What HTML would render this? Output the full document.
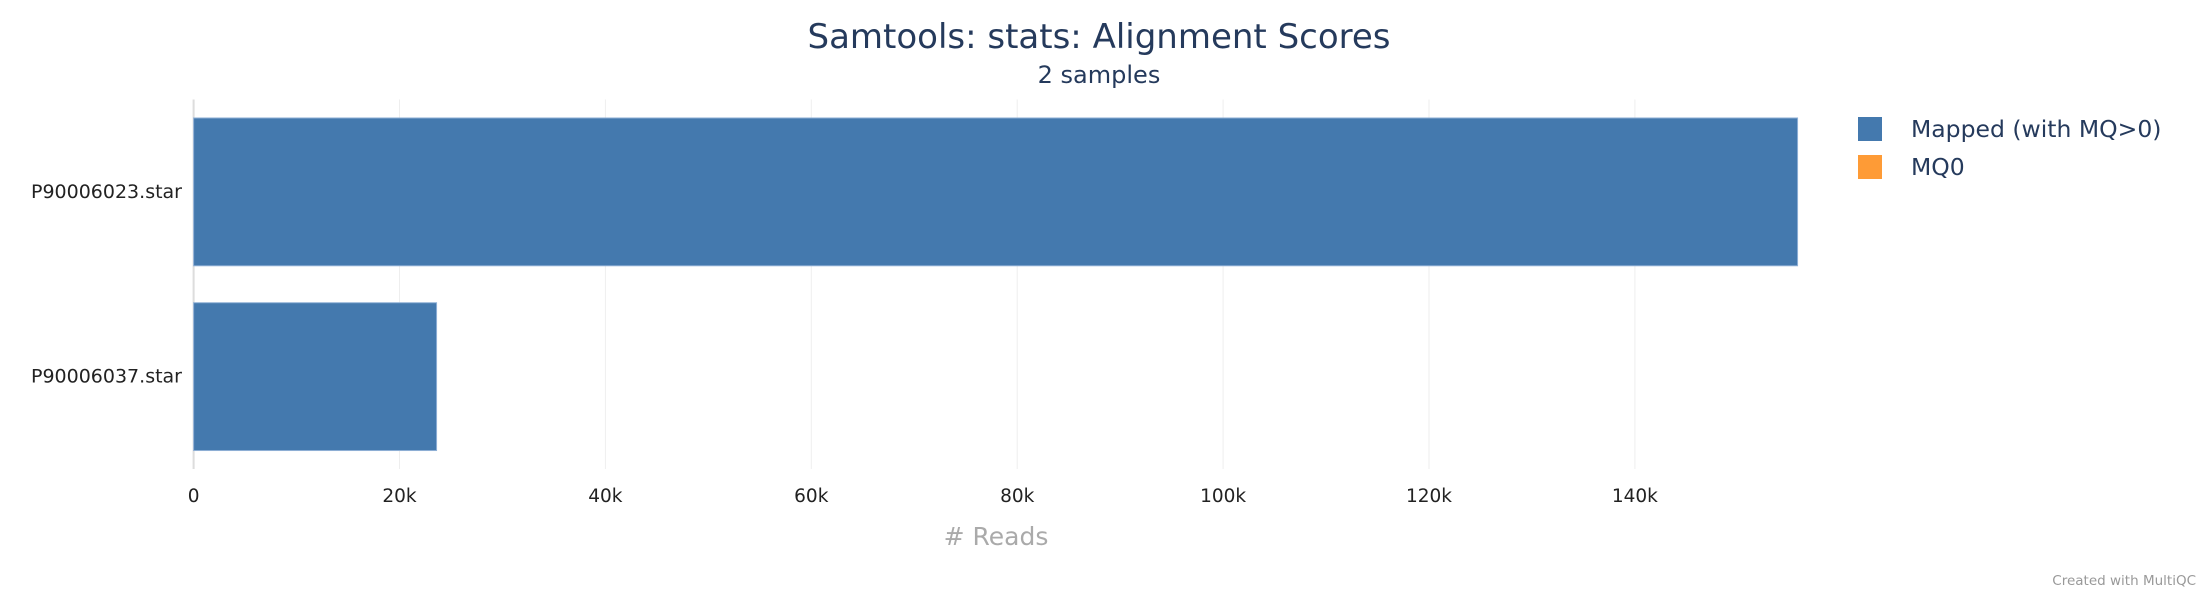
<!DOCTYPE html>
<html><head><meta charset="utf-8"><style>
html,body{margin:0;padding:0;background:#fff;}
svg{display:block;font-family:"DejaVu Sans","Liberation Sans",sans-serif;}
</style></head><body>
<svg id="chart" width="2200" height="600" viewBox="0 0 2200 600">
<text x="1099" y="48" text-anchor="middle" font-size="34" fill="#253a5c">Samtools: stats: Alignment Scores</text>
<text x="1099" y="83" text-anchor="middle" font-size="24" fill="#253a5c">2 samples</text>
<g id="grid"></g><g id="bars"></g><g id="xticks"></g><g id="ylabels"></g>
<text x="996" y="545" text-anchor="middle" font-size="25" fill="#aaaaaa"># Reads</text>
<g>
<g><rect x="1858" y="117" width="24" height="24" fill="#4479ae"/><text x="1911" y="137" font-size="23.5" fill="#253a5c">Mapped (with MQ&gt;0)</text></g>
<g><rect x="1858" y="155" width="24" height="24" fill="#fe9b36"/><text x="1911" y="175" font-size="23.5" fill="#253a5c">MQ0</text></g>
</g>
<text x="2196" y="585" text-anchor="end" font-size="13.5" fill="#999">Created with MultiQC</text>
</svg>
<script>
const categories = ["P90006023.star","P90006037.star"];
const mappedValues = [155800, 23600];
const mq0Values = [0, 0];
const tickValues = [0,20000,40000,60000,80000,100000,120000,140000];
const tickLabels = ["0","20k","40k","60k","80k","100k","120k","140k"];
const NS="http://www.w3.org/2000/svg";
const X0=193.6, PX_PER=205.9/20000, TOP=99.5, BOT=469;
const xs=v=>X0+v*PX_PER;
const band=(BOT-TOP)/categories.length;
const ys=i=>TOP+band*i;
function mk(tag,attrs,parent){const e=document.createElementNS(NS,tag);for(const k in attrs)e.setAttribute(k,attrs[k]);parent.appendChild(e);return e;}
const grid=document.getElementById('grid'),bars=document.getElementById('bars'),xt=document.getElementById('xticks'),yl=document.getElementById('ylabels');
tickValues.forEach((v,i)=>{
  const l=mk('line',{x1:xs(v),x2:xs(v),y1:TOP,y2:BOT,stroke:i===0?'#dddddd':'#eeeeee','stroke-width':i===0?2:1},grid);
  
  
  const t=mk('text',{x:xs(v),y:502,'text-anchor':'middle','font-size':18.5,fill:'#222'},xt);
  t.textContent=tickLabels[i];
  
  
});
categories.forEach((c,i)=>{
  const y=ys(i)+band*0.1, h=band*0.8;
  const r=mk('rect',{x:xs(0),y:y,width:xs(mappedValues[i])-xs(0),height:h,fill:'#4479ae',stroke:'#8fb0d6','stroke-width':1},bars);
  
  
  const r2=mk('rect',{x:xs(mappedValues[i]),y:y,width:xs(mq0Values[i])-xs(0),height:h,fill:'#fe9b36'},bars);
  
  
  const t=mk('text',{x:182,y:ys(i)+band/2+6,'text-anchor':'end','font-size':19,fill:'#222'},yl);
  t.textContent=c;
  
  
});
</script>
</body></html>
